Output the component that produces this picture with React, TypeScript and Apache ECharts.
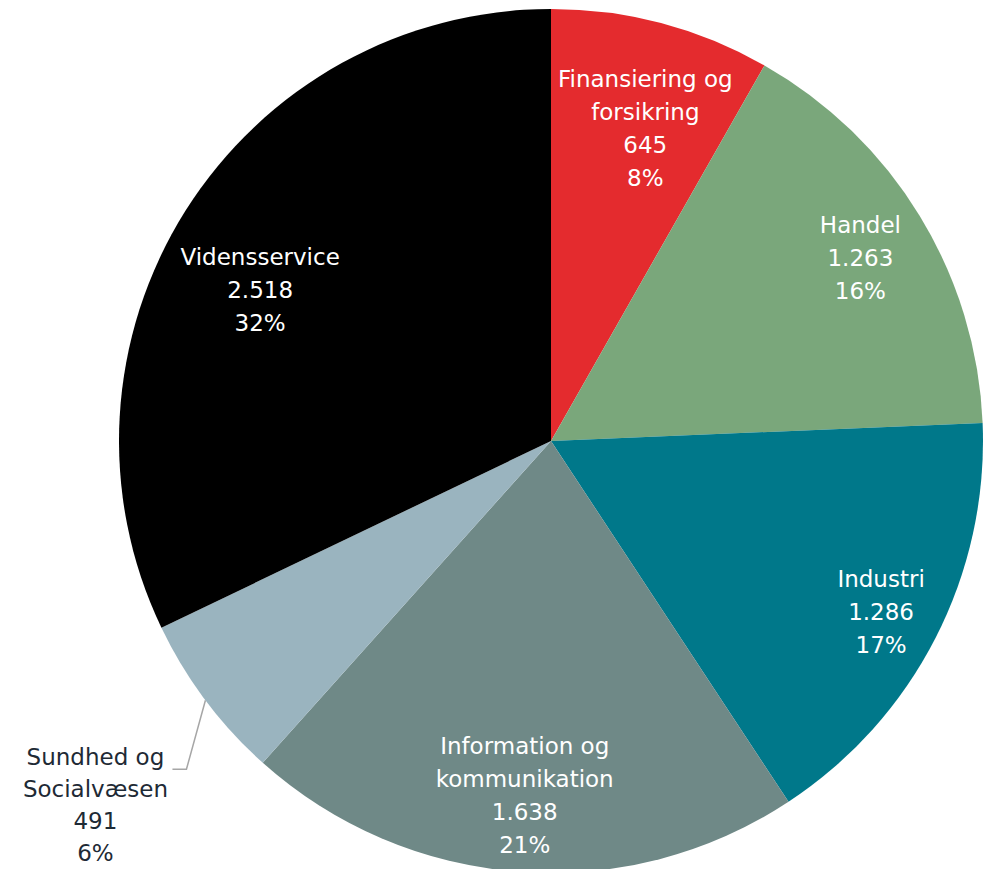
import React, { useEffect, useRef } from "react";
import * as echarts from "echarts";

const categories = [
  "Finansiering og\nforsikring",
  "Handel",
  "Industri",
  "Information og\nkommunikation",
  "Sundhed og\nSocialvæsen",
  "Vidensservice",
];
const values = [645, 1263, 1286, 1638, 491, 2518];
const valueLabels = ["645", "1.263", "1.286", "1.638", "491", "2.518"];
const percentLabels = ["8%", "16%", "17%", "21%", "6%", "32%"];

const colors = ["#E42B2E", "#7AA77B", "#00788A", "#6F8987", "#9AB4BF", "#000000"];
// label placement (style): radial ratio and angle tweak (deg)
const labelRatio = [0.755, 0.832, 0.86, 0.822, 0, 0.759];
const labelAngleShift = [2, 0.8, 0.2, 0, 0, -4.7];

const CX = 551;
const CY = 441;
const R = 432;

export default function App() {
  const ref = useRef<HTMLDivElement>(null);
  useEffect(() => {
    document.body.style.margin = "0";
    const chart = echarts.init(ref.current!, undefined, { renderer: "svg" });
    const total = values.reduce((a, b) => a + b, 0);
    const midAngles: number[] = [];
    let acc = 0;
    values.forEach((v) => {
      midAngles.push(((acc + v / 2) / total) * 360);
      acc += v;
    });
    const data = categories.map((name, i) => {
      const outside = i === 4;
      return {
        name,
        value: values[i],
        itemStyle: { color: colors[i] },
        label: {
          show: true,
          position: outside ? "outside" : "inside",
          color: outside ? "#1E2A35" : "#FFFFFF",
          lineHeight: outside ? 32 : 33,
          formatter: `${name}\n${valueLabels[i]}\n${percentLabels[i]}`,
        },
        labelLine: outside
          ? { show: true, lineStyle: { color: "#A6A6A6", width: 1.5 } }
          : { show: false },
      };
    });
    chart.setOption({
      animation: false,
      backgroundColor: "#FFFFFF",
      series: [
        {
          type: "pie",
          center: [CX, CY],
          radius: [0, R],
          startAngle: 90,
          clockwise: true,
          avoidLabelOverlap: false,
          label: {
            fontFamily: "DejaVu Sans",
            fontSize: 23,
            lineHeight: 33,
            align: "center",
          },
          labelLayout: (p: any) => {
            const i = p.dataIndex;
            const a = ((midAngles[i] + labelAngleShift[i]) * Math.PI) / 180;
            if (i === 4) {
              const ex = CX + Math.sin(a) * R;
              const ey = CY - Math.cos(a) * R;
              const bx = ex - 19;
              const by = ey + 69;
              const lx = ex - 110;
              const ly = ey + 105;
              return {
                x: lx,
                y: ly,
                align: "center",
                verticalAlign: "middle",
                labelLinePoints: [
                  [ex, ey],
                  [bx, by],
                  [bx - 14, by],
                ],
              };
            }
            const d = R * labelRatio[i];
            return {
              x: CX + Math.sin(a) * d,
              y: CY - Math.cos(a) * d,
              align: "center",
              verticalAlign: "middle",
            };
          },
          data,
        },
      ],
    });
    return () => chart.dispose();
  }, []);
  return (
    <div
      ref={ref}
      style={{ position: "absolute", left: 0, top: 0, width: 987, height: 869 }}
    />
  );
}
